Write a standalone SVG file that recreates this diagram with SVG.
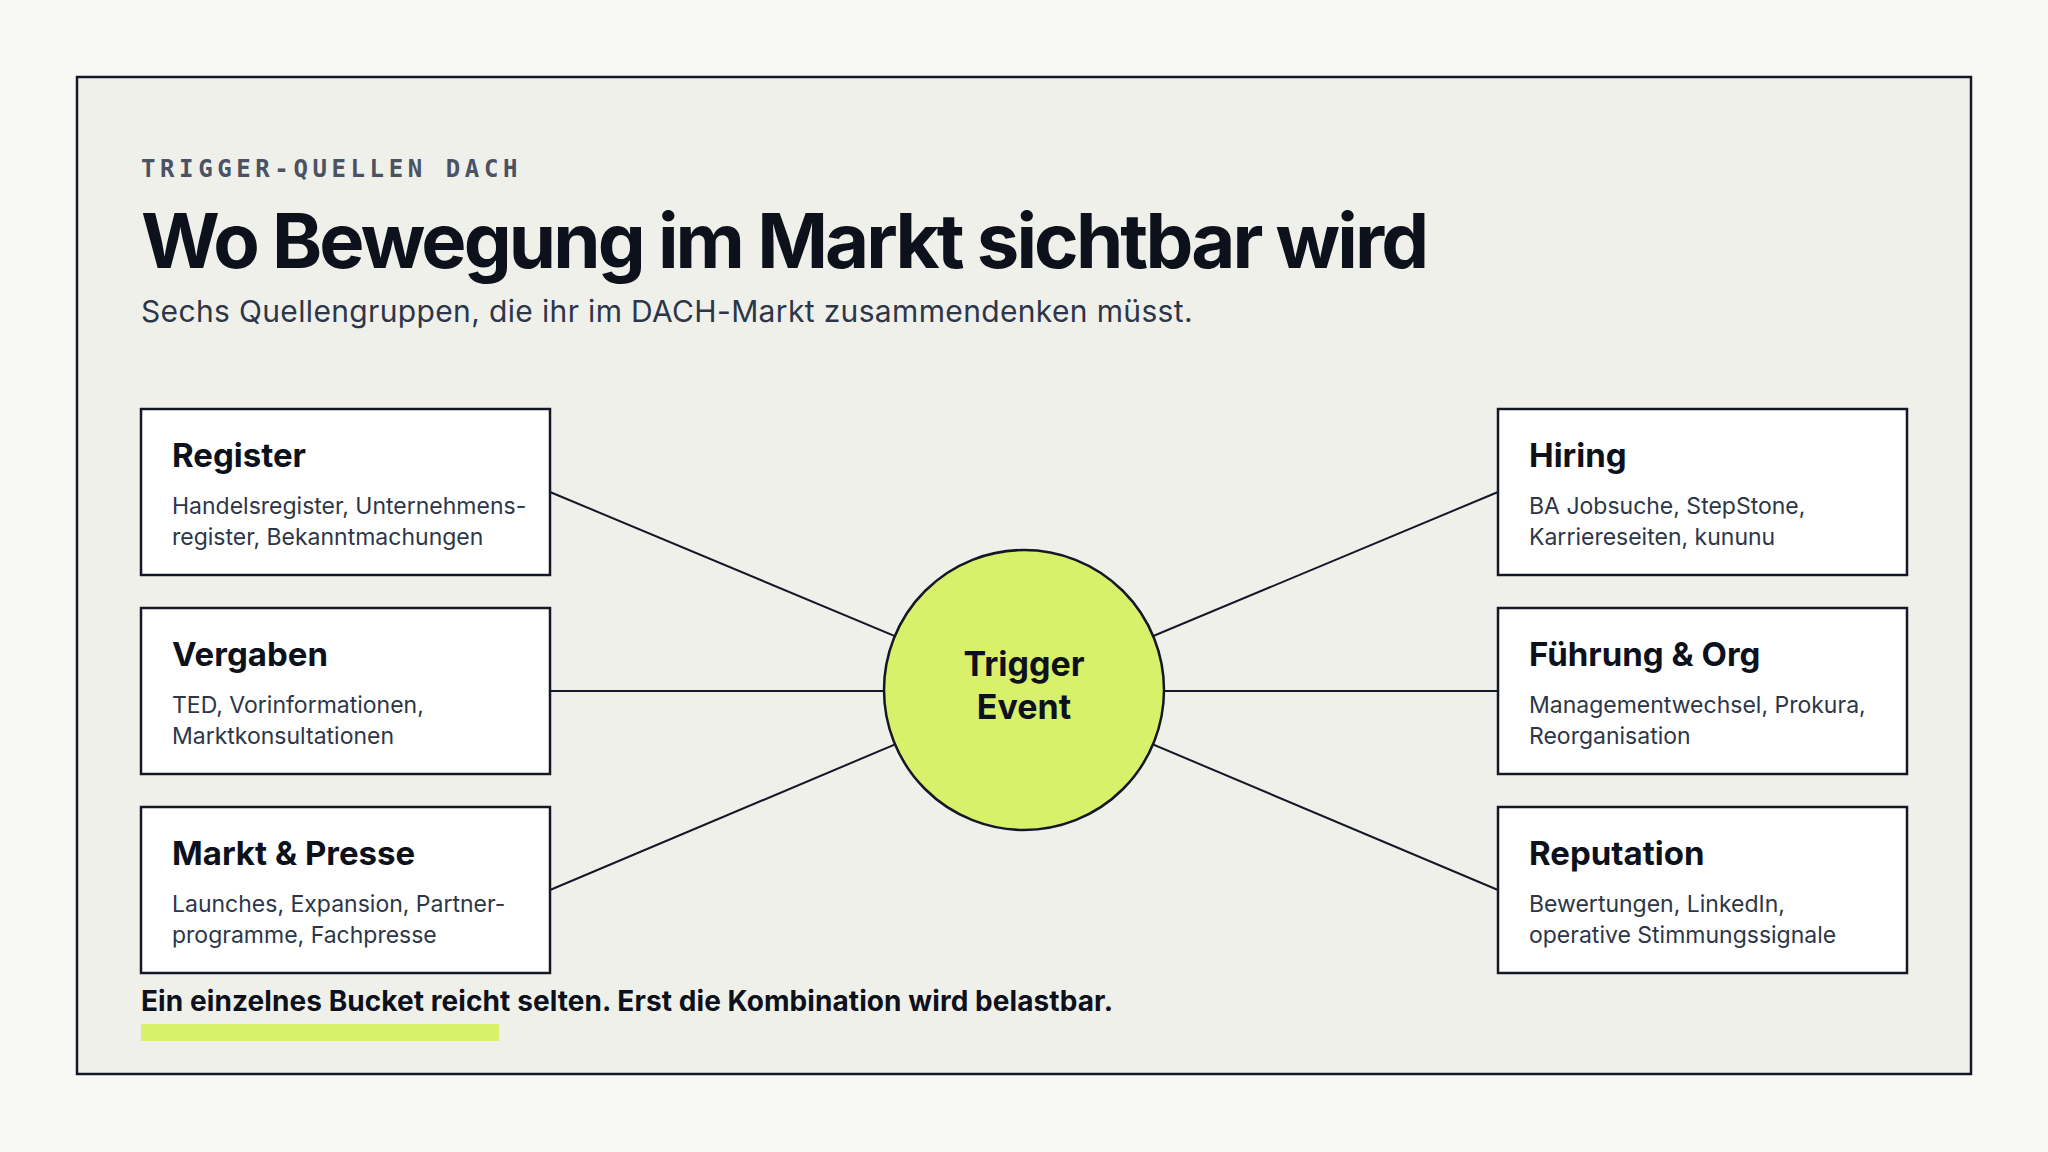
<svg xmlns="http://www.w3.org/2000/svg" width="2048" height="1152" viewBox="0 0 2048 1152">
<style>
.bg{fill:#f8f8f4}
.frame{fill:#f0f0eb;stroke:#141826;stroke-width:2.5}
.eyebrow{font-family:"DejaVu Sans Mono","Liberation Mono",monospace;font-size:24px;letter-spacing:4.6px;fill:#4a5263;font-weight:700}
.h1{font-family:Inter,"Liberation Sans",sans-serif;font-size:76px;font-weight:700;letter-spacing:-2.9px;fill:#0d111c}
.sub{font-family:Inter,"Liberation Sans",sans-serif;font-size:30px;letter-spacing:0.35px;fill:#2d3648}
.box{fill:#ffffff;stroke:#141826;stroke-width:2.5}
.bt{font-family:Inter,"Liberation Sans",sans-serif;font-size:33px;font-weight:700;fill:#0d111c}
.bd{font-family:Inter,"Liberation Sans",sans-serif;font-size:23px;fill:#2d3648}
.conn line{stroke:#141826;stroke-width:2}
.hub{fill:#d9f06a;stroke:#141826;stroke-width:2.5}
.ht{font-family:Inter,"Liberation Sans",sans-serif;font-size:34px;font-weight:700;fill:#0d111c;text-anchor:middle}
.foot{font-family:Inter,"Liberation Sans",sans-serif;font-size:28px;font-weight:700;letter-spacing:0.08px;fill:#0d111c}
</style>
<rect class="bg" x="0" y="0" width="2048" height="1152"/>
<rect class="frame" x="77" y="77" width="1894" height="997"/>
<text class="eyebrow" x="141" y="177">TRIGGER-QUELLEN DACH</text>
<text class="h1" x="141" y="268">Wo Bewegung im Markt sichtbar wird</text>
<text class="sub" x="141" y="322">Sechs Quellengruppen, die ihr im DACH-Markt zusammendenken müsst.</text>
<g id="connectors" class="conn">
<line x1="550" y1="492" x2="1024" y2="690"/>
<line x1="550" y1="691" x2="1024" y2="691"/>
<line x1="550" y1="890" x2="1024" y2="690"/>
<line x1="1498" y1="492" x2="1024" y2="690"/>
<line x1="1498" y1="691" x2="1024" y2="691"/>
<line x1="1498" y1="890" x2="1024" y2="690"/>
</g>
<g id="register">
<rect class="box" x="141" y="409" width="409" height="166"/>
<text class="bt" x="172" y="467">Register</text>
<text class="bd" x="172" y="514">Handelsregister, Unternehmens-</text>
<text class="bd" x="172" y="545">register, Bekanntmachungen</text>
</g>
<g id="vergaben">
<rect class="box" x="141" y="608" width="409" height="166"/>
<text class="bt" x="172" y="666">Vergaben</text>
<text class="bd" x="172" y="713">TED, Vorinformationen,</text>
<text class="bd" x="172" y="744">Marktkonsultationen</text>
</g>
<g id="markt-presse">
<rect class="box" x="141" y="807" width="409" height="166"/>
<text class="bt" x="172" y="865">Markt &amp; Presse</text>
<text class="bd" x="172" y="912">Launches, Expansion, Partner-</text>
<text class="bd" x="172" y="943">programme, Fachpresse</text>
</g>
<g id="hiring">
<rect class="box" x="1498" y="409" width="409" height="166"/>
<text class="bt" x="1529" y="467">Hiring</text>
<text class="bd" x="1529" y="514">BA Jobsuche, StepStone,</text>
<text class="bd" x="1529" y="545">Karriereseiten, kununu</text>
</g>
<g id="fuehrung-org">
<rect class="box" x="1498" y="608" width="409" height="166"/>
<text class="bt" x="1529" y="666">Führung &amp; Org</text>
<text class="bd" x="1529" y="713">Managementwechsel, Prokura,</text>
<text class="bd" x="1529" y="744">Reorganisation</text>
</g>
<g id="reputation">
<rect class="box" x="1498" y="807" width="409" height="166"/>
<text class="bt" x="1529" y="865">Reputation</text>
<text class="bd" x="1529" y="912">Bewertungen, LinkedIn,</text>
<text class="bd" x="1529" y="943">operative Stimmungssignale</text>
</g>
<g id="trigger-event">
<circle class="hub" cx="1024" cy="690" r="140"/>
<text class="ht" x="1024" y="676">Trigger</text>
<text class="ht" x="1024" y="719">Event</text>
</g>
<text class="foot" x="141" y="1011">Ein einzelnes Bucket reicht selten. Erst die Kombination wird belastbar.</text>
<rect x="141" y="1024" width="358" height="17" fill="#d9f06a"/>
</svg>
